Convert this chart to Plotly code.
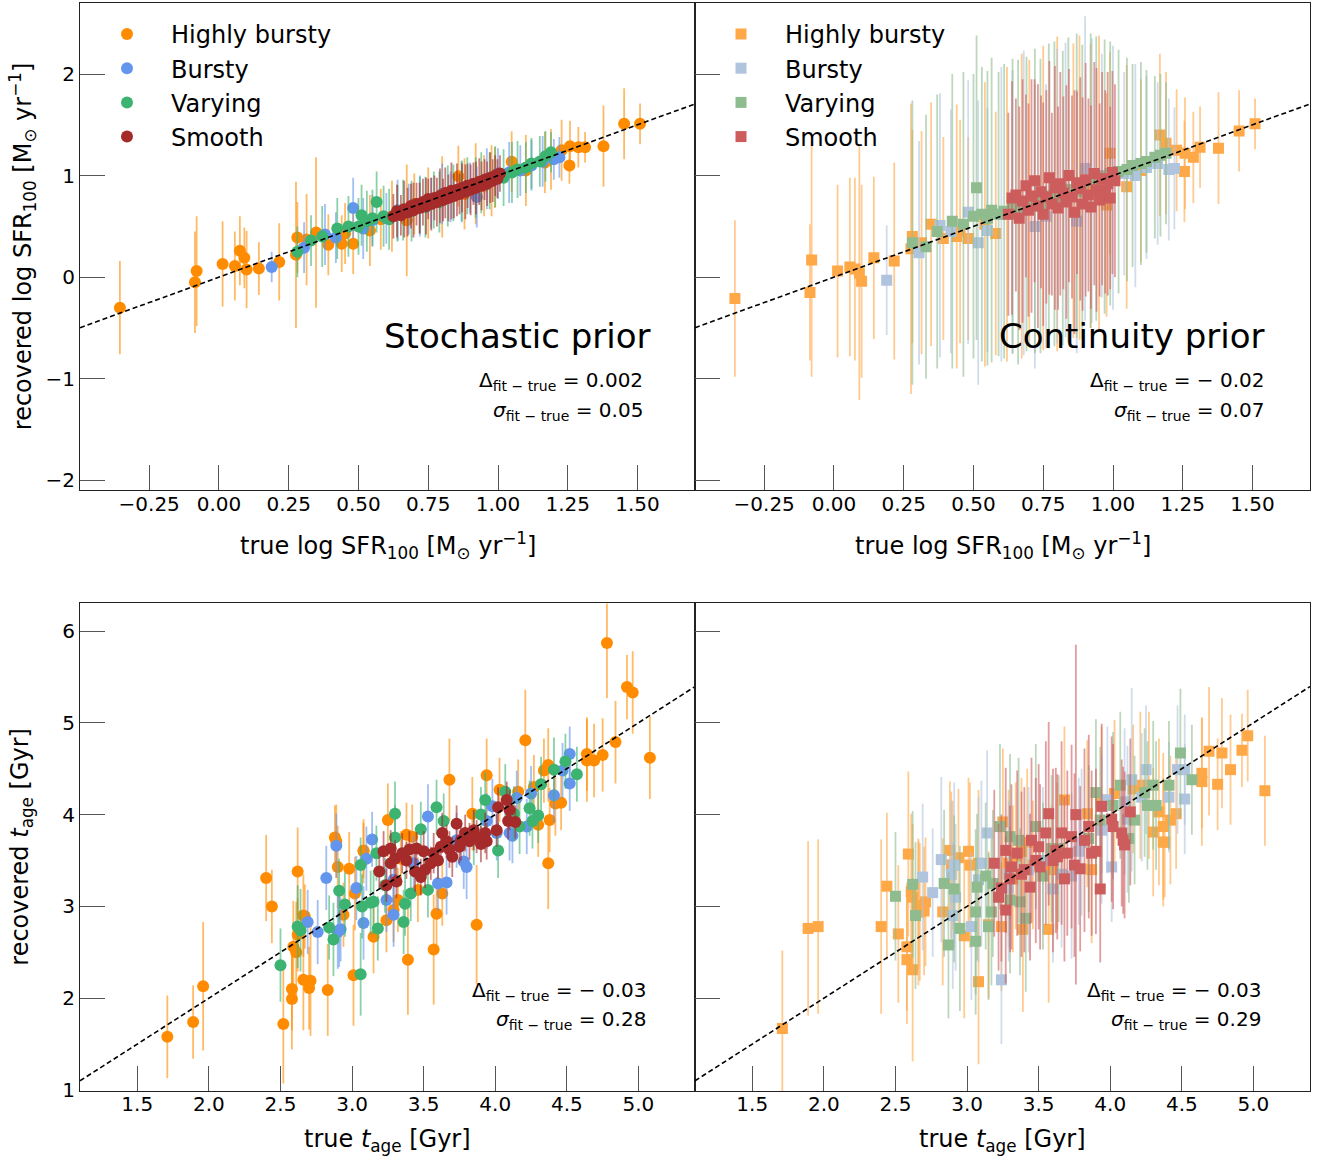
import plotly.graph_objects as go

# ---------------- DATA ----------------
classes = ["Highly bursty", "Bursty", "Varying", "Smooth"]

# --- top panels: log SFR100 (true, stochastic recovery, continuity recovery) ---
HB_sfr_true = [-0.355,-0.086,-0.080,0.013,0.057,0.075,0.091,0.099,0.143,0.216,0.276,0.281,0.314,0.348,0.392,0.440,0.452,0.481,0.541,0.580,0.620,0.673,0.700,0.750,0.800,0.858,0.880,0.920,0.950,0.977,0.989,1.049,1.100,1.168,1.190,1.228,1.256,1.258,1.288,1.312,1.378,1.452,1.509]
HB_sfr_stoch = [-0.30,-0.05,0.06,0.13,0.11,0.26,0.19,0.075,0.085,0.15,0.22,0.39,0.37,0.44,0.32,0.33,0.43,0.33,0.46,0.57,0.60,0.56,0.72,0.73,0.79,0.995,0.82,0.92,0.90,0.95,0.98,1.136,1.05,1.13,1.16,1.25,1.10,1.29,1.28,1.28,1.29,1.51,1.51]
HB_sfr_stoch_err = [0.46,0.50,0.54,0.42,0.34,0.34,0.30,0.38,0.26,0.38,0.72,0.35,0.45,0.74,0.30,0.28,0.30,0.30,0.35,0.30,0.35,0.55,0.30,0.35,0.40,0.30,0.35,0.40,0.30,0.35,0.30,0.30,0.35,0.30,0.30,0.30,0.18,0.25,0.20,0.15,0.40,0.35,0.20]
HB_sfr_cont = [-0.21,-0.15,0.17,0.06,0.10,0.08,0.04,-0.04,0.19,0.16,0.28,0.40,0.34,0.52,0.38,0.40,0.45,0.38,0.52,0.43,0.62,0.70,0.74,0.78,0.82,0.85,0.88,0.90,0.93,0.71,1.22,0.89,1.05,1.40,1.32,1.25,1.04,1.22,1.18,1.28,1.27,1.44,1.51]
HB_sfr_cont_err = [0.77,0.67,1.15,0.85,0.88,0.90,1.25,0.95,0.80,0.97,1.43,1.05,1.10,1.20,1.00,1.30,1.10,1.00,1.40,1.20,1.45,1.50,1.40,1.50,1.55,1.45,1.50,1.40,1.45,1.10,1.00,1.20,0.90,0.80,0.70,0.60,0.50,0.55,0.45,0.40,0.55,0.40,0.25]

B_sfr_true = [0.189,0.305,0.380,0.419,0.481,0.517,0.550,0.600,0.640,0.680,0.720,0.760,0.800,0.830,0.870,0.900,0.924,0.960,1.000,1.040,1.080,1.120,1.160,1.200,1.220]
B_sfr_stoch = [0.10,0.29,0.42,0.39,0.68,0.48,0.56,0.58,0.66,0.67,0.70,0.73,0.82,0.79,0.84,0.88,0.79,0.97,1.02,1.03,1.05,1.10,1.14,1.16,1.18]
B_sfr_stoch_err = [0.15,0.25,0.30,0.25,0.30,0.30,0.25,0.25,0.30,0.25,0.30,0.25,0.30,0.25,0.30,0.25,0.30,0.30,0.25,0.30,0.25,0.25,0.25,0.20,0.20]
B_sfr_cont = [-0.03,0.24,0.51,0.45,0.64,0.34,0.46,0.62,0.64,0.73,0.50,0.60,0.80,0.86,0.55,1.07,0.95,1.00,0.98,1.02,1.00,1.08,1.12,1.06,1.07]
B_sfr_cont_err = [0.54,1.10,1.30,1.20,1.30,1.40,1.20,1.45,1.40,1.50,1.40,1.30,1.45,1.45,1.30,1.50,1.40,1.20,1.30,1.00,1.10,0.90,0.80,0.70,0.60]

V_sfr_true = [0.281,0.330,0.370,0.424,0.464,0.500,0.511,0.530,0.550,0.565,0.590,0.610,0.640,0.660,0.690,0.720,0.740,0.770,0.790,0.820,0.840,0.870,0.890,0.920,0.940,0.970,0.990,1.020,1.050,1.070,1.100,1.120,1.150,1.170,1.190]
V_sfr_stoch = [0.25,0.36,0.40,0.48,0.50,0.50,0.61,0.55,0.58,0.74,0.60,0.57,0.63,0.66,0.65,0.71,0.69,0.76,0.74,0.80,0.83,0.85,0.90,0.88,0.93,0.95,0.99,0.98,1.03,1.06,1.08,1.12,1.14,1.19,1.23]
V_sfr_stoch_err = [0.25,0.25,0.30,0.30,0.30,0.28,0.30,0.30,0.28,0.30,0.30,0.30,0.28,0.30,0.30,0.28,0.30,0.28,0.30,0.30,0.28,0.30,0.28,0.30,0.30,0.28,0.30,0.28,0.30,0.28,0.25,0.25,0.25,0.25,0.20]
V_sfr_cont = [0.34,0.30,0.45,0.55,0.52,0.60,0.88,0.62,0.58,0.66,0.62,0.65,0.70,0.64,0.72,0.75,0.70,0.80,0.82,0.78,0.86,0.90,0.84,0.95,0.97,0.99,1.02,1.04,1.06,1.10,1.12,1.14,1.18,1.20,1.22]
V_sfr_cont_err = [1.40,1.30,1.35,1.45,1.50,1.40,1.50,1.45,1.45,1.50,1.40,1.45,1.45,1.50,1.45,1.50,1.45,1.50,1.50,1.45,1.50,1.50,1.45,1.45,1.40,1.35,1.30,1.20,1.10,1.00,1.00,0.90,0.80,0.80,0.70]

S_sfr_true = [0.625,0.638,0.652,0.664,0.676,0.688,0.697,0.708,0.719,0.731,0.742,0.750,0.761,0.772,0.781,0.792,0.803,0.811,0.822,0.833,0.842,0.853,0.862,0.871,0.883,0.891,0.902,0.912,0.921,0.933,0.941,0.952,0.961,0.972,0.981,0.990,0.998,1.007]
S_sfr_stoch = [0.60,0.65,0.61,0.67,0.64,0.70,0.66,0.72,0.68,0.74,0.70,0.77,0.72,0.78,0.74,0.80,0.76,0.83,0.78,0.85,0.80,0.86,0.82,0.88,0.84,0.90,0.86,0.92,0.88,0.94,0.90,0.96,0.92,0.98,0.95,1.00,0.97,1.02]
S_sfr_stoch_err = [0.22,0.26,0.20,0.28,0.24,0.22,0.27,0.21,0.25,0.23,0.28,0.20,0.26,0.22,0.24,0.27,0.21,0.25,0.23,0.28,0.22,0.26,0.20,0.24,0.27,0.22,0.25,0.21,0.26,0.23,0.24,0.20,0.22,0.25,0.21,0.20,0.19,0.18]
S_sfr_cont = [0.62,0.78,0.81,0.58,0.75,0.90,0.66,0.80,0.95,0.70,0.84,0.62,0.79,0.98,0.72,0.88,0.68,0.92,0.83,0.74,1.00,0.79,0.64,0.93,0.87,0.72,0.96,0.81,0.69,1.02,0.86,0.76,0.97,0.84,0.92,0.78,1.03,0.95]
S_sfr_cont_err = [1.00,1.15,0.95,1.10,1.20,0.90,1.05,1.15,1.00,1.20,0.95,1.10,1.05,1.15,0.90,1.20,1.00,1.10,0.95,1.15,1.05,1.00,1.20,0.90,1.10,1.05,1.15,0.95,1.00,1.10,1.20,0.95,1.05,1.00,1.10,0.90,1.00,0.95]

# --- bottom panels: t_age [Gyr] ---
HB_age_true = [1.71,1.89,1.96,2.40,2.44,2.52,2.58,2.58,2.59,2.61,2.62,2.62,2.66,2.67,2.66,2.71,2.70,2.83,2.88,2.89,2.90,2.94,2.98,3.01,3.02,3.08,3.08,3.15,3.25,3.24,3.29,3.34,3.32,3.39,3.38,3.42,3.46,3.57,3.59,3.63,3.68,3.84,3.87,3.94,4.03,4.16,4.21,4.27,4.30,4.34,4.37,4.38,4.37,4.42,4.46,4.64,4.64,4.69,4.75,4.84,4.78,4.92,4.96,5.08]
HB_age_stoch = [1.58,1.74,2.13,3.31,3.00,1.72,2.10,1.99,2.56,2.50,3.38,2.69,2.90,2.89,2.20,2.19,2.11,2.09,3.75,3.71,3.43,2.91,3.41,2.25,3.14,3.60,3.61,2.67,3.94,2.85,2.96,3.52,3.07,2.42,3.78,3.76,3.18,2.53,2.92,3.14,4.38,4.01,2.80,4.43,4.27,4.25,4.81,4.30,3.89,4.48,4.54,3.94,3.47,4.12,4.13,4.66,4.59,4.59,4.65,4.79,5.87,5.39,5.33,4.62]
HB_age_stoch_err = [0.45,0.40,0.70,0.47,0.40,0.65,0.45,0.55,0.50,0.55,0.48,0.40,0.45,0.35,0.55,0.60,0.45,0.50,0.35,0.40,0.45,0.35,0.40,0.55,0.40,0.35,0.30,0.40,0.40,0.35,0.35,0.30,0.35,0.60,0.35,0.35,0.35,0.60,0.40,0.35,0.45,0.40,0.65,0.40,0.35,0.35,0.55,0.35,0.35,0.35,0.40,0.35,0.50,0.35,0.30,0.40,0.45,0.40,0.40,0.45,0.60,0.35,0.45,0.45]
HB_age_cont = [1.67,2.76,2.78,2.78,3.22,2.70,2.56,2.42,3.57,3.16,3.10,2.31,3.01,2.94,2.94,3.05,2.95,2.94,3.61,3.45,3.45,3.53,2.68,3.60,3.45,2.18,3.47,2.80,3.92,2.78,3.47,3.55,3.30,2.75,3.60,3.70,3.45,2.75,3.40,3.55,4.16,4.01,3.40,4.16,4.23,4.28,4.32,4.32,3.81,4.03,3.70,3.70,3.87,3.94,4.01,4.45,4.36,4.69,4.33,4.49,4.67,4.70,4.86,4.26]
HB_age_cont_err = [0.85,0.95,0.95,0.95,0.80,0.75,0.70,0.70,0.90,0.85,0.80,1.00,0.70,0.75,0.80,0.70,0.70,0.80,0.75,0.80,0.70,0.75,0.90,0.80,0.90,0.90,0.80,0.80,0.80,0.70,0.80,0.80,0.80,0.90,0.80,0.80,0.70,0.80,0.70,0.80,0.80,0.80,0.80,0.80,0.80,0.70,0.80,0.80,0.70,0.80,0.70,0.60,0.80,0.70,0.60,0.60,0.70,0.70,0.50,0.60,0.60,0.40,0.50,0.60]

B_age_true = [2.69,2.76,2.82,2.89,2.90,2.92,2.91,3.03,3.08,3.10,3.14,3.24,3.29,3.29,3.43,3.53,3.60,3.66,3.73,3.78,3.80,3.94,3.98,4.01,4.10,4.12,4.15,4.22,4.25,4.41,4.47,4.52,4.52]
B_age_stoch = [2.83,2.72,3.31,3.66,2.72,2.75,2.74,3.20,2.82,3.52,3.73,3.07,3.29,2.91,3.47,3.98,3.25,3.26,3.72,3.49,3.43,3.93,4.09,3.80,3.80,3.77,4.18,3.87,4.23,4.21,4.48,4.66,4.34]
B_age_stoch_err = [0.35,0.35,0.35,0.35,0.40,0.35,0.40,0.35,0.40,0.35,0.30,0.35,0.30,0.35,0.30,0.35,0.30,0.35,0.30,0.30,0.35,0.30,0.30,0.30,0.30,0.30,0.30,0.30,0.30,0.30,0.30,0.30,0.30]
B_age_cont = [3.32,3.15,3.51,3.35,2.90,3.10,3.45,2.78,3.29,3.47,3.80,2.20,3.35,3.20,3.40,3.50,3.19,3.35,3.33,3.60,3.70,3.83,4.16,3.43,4.14,3.95,4.38,4.19,4.49,4.19,4.49,4.49,4.17]
B_age_cont_err = [0.80,0.70,0.90,0.80,0.80,0.80,0.90,0.80,0.90,0.90,0.90,0.70,0.80,0.80,0.90,0.80,0.80,0.80,0.90,0.80,0.80,0.80,0.80,0.60,0.80,0.80,1.00,0.70,0.70,0.60,0.70,0.60,0.60]

V_age_true = [2.50,2.62,2.64,2.84,2.87,2.91,2.95,3.06,3.06,3.07,3.13,3.15,3.17,3.18,3.23,3.30,3.30,3.36,3.37,3.41,3.48,3.53,3.59,3.64,3.85,3.90,3.93,4.02,4.07,4.13,4.17,4.24,4.26,4.30,4.32,4.41,4.49,4.57]
V_age_stoch = [2.36,2.78,2.74,2.77,2.64,3.17,3.02,2.26,3.45,3.00,3.04,3.05,3.58,2.76,3.23,4.01,3.75,2.83,3.03,3.14,3.84,3.18,4.08,3.93,3.75,4.00,4.16,3.61,4.25,4.01,3.87,4.07,3.93,3.99,4.33,4.49,4.58,4.44]
V_age_stoch_err = [0.40,0.45,0.45,0.35,0.40,0.35,0.35,0.45,0.30,0.35,0.35,0.35,0.30,0.35,0.30,0.35,0.35,0.35,0.35,0.30,0.30,0.30,0.30,0.30,0.30,0.30,0.30,0.30,0.30,0.30,0.30,0.30,0.30,0.30,0.30,0.35,0.30,0.30]
V_age_cont = [3.11,3.24,2.90,3.25,2.58,3.19,2.76,2.94,2.62,3.21,3.33,2.78,2.94,3.25,3.87,3.76,3.07,3.72,3.05,2.87,3.87,3.33,3.63,3.63,3.74,4.24,3.94,4.10,4.32,3.74,3.94,4.24,4.10,4.32,4.10,4.32,4.67,4.38]
V_age_cont_err = [0.70,0.80,0.80,0.80,0.80,0.80,0.90,0.90,0.80,0.80,0.80,0.80,0.80,0.80,0.90,0.90,0.80,0.90,0.80,0.80,0.90,0.80,0.80,0.80,0.80,0.80,0.80,0.80,0.80,0.70,0.70,0.70,0.70,0.70,0.70,0.70,0.70,0.60]

S_age_true = [3.19,3.22,3.24,3.27,3.27,3.30,3.31,3.35,3.38,3.40,3.44,3.45,3.48,3.50,3.51,3.55,3.57,3.60,3.62,3.63,3.66,3.68,3.70,3.73,3.75,3.76,3.79,3.82,3.85,3.87,3.90,3.93,3.94,4.01,4.02,4.08,4.09,4.10,4.14]
S_age_stoch = [3.38,3.60,3.23,3.63,3.47,3.52,3.27,3.58,3.50,3.62,3.38,3.63,3.32,3.60,3.40,3.47,3.58,3.50,3.65,3.80,3.71,3.62,3.54,3.90,3.65,3.72,3.80,3.71,3.83,3.76,3.68,3.80,3.71,3.83,4.08,4.16,3.93,4.05,3.92]
S_age_stoch_err = [0.20,0.22,0.18,0.20,0.22,0.20,0.18,0.22,0.20,0.20,0.22,0.18,0.20,0.22,0.20,0.18,0.22,0.20,0.20,0.22,0.18,0.20,0.22,0.20,0.18,0.22,0.20,0.20,0.22,0.18,0.20,0.22,0.20,0.18,0.22,0.20,0.20,0.22,0.18]
S_age_cont = [3.47,3.10,3.20,3.61,2.96,3.30,3.43,3.58,3.35,3.40,3.21,3.72,3.50,3.65,3.43,3.80,4.01,3.50,3.61,3.54,3.80,3.30,3.58,3.76,3.45,4.00,3.41,3.72,3.87,3.58,3.60,3.19,4.09,3.95,3.87,3.80,3.72,3.67,4.03]
S_age_cont_err = [0.80,0.80,0.80,0.90,0.80,0.80,0.90,0.90,0.90,0.90,0.80,0.90,0.90,0.90,0.90,1.00,1.00,1.00,0.90,0.90,1.00,0.90,0.90,1.00,1.00,1.85,0.90,1.00,1.00,0.90,0.90,0.80,0.90,0.90,0.90,0.80,0.80,0.80,0.80]

# axis ticks
sfr_x_ticks = [-0.25, 0.0, 0.25, 0.5, 0.75, 1.0, 1.25, 1.5]
sfr_x_labels = ["\u22120.25", "0.00", "0.25", "0.50", "0.75", "1.00", "1.25", "1.50"]
sfr_y_ticks = [-2, -1, 0, 1, 2]
sfr_y_labels = ["\u22122", "\u22121", "0", "1", "2"]
age_x_ticks = [1.5, 2.0, 2.5, 3.0, 3.5, 4.0, 4.5, 5.0]
age_x_labels = ["1.5", "2.0", "2.5", "3.0", "3.5", "4.0", "4.5", "5.0"]
age_y_ticks = [1, 2, 3, 4, 5, 6]
age_y_labels = ["1", "2", "3", "4", "5", "6"]
sfr_range = [-0.498, 1.706]
sfr_yrange = [-2.10, 2.70]
age_range = [1.10, 5.395]
age_yrange = [0.99, 6.30]

stats = {
    "tl": ("0.002", "0.05"),
    "tr": ("\u2212 0.02", "0.07"),
    "bl": ("\u2212 0.03", "0.28"),
    "br": ("\u2212 0.03", "0.29"),
}

# ---------------- STYLE ----------------
FONT = "DejaVu Sans"
left_colors = ["rgb(255,140,0)", "rgb(100,149,237)", "rgb(60,179,113)", "rgb(165,42,42)"]
left_err = ["rgba(255,140,0,0.6)", "rgba(100,149,237,0.6)", "rgba(60,179,113,0.6)", "rgba(165,42,42,0.6)"]
right_colors = ["rgb(255,168,72)", "rgb(176,196,222)", "rgb(143,188,143)", "rgb(205,92,92)"]
right_err = ["rgba(255,168,72,0.6)", "rgba(176,196,222,0.6)", "rgba(143,188,143,0.6)", "rgba(205,92,92,0.6)"]

sfr_sets = [
    (HB_sfr_true, HB_sfr_stoch, HB_sfr_stoch_err, HB_sfr_cont, HB_sfr_cont_err),
    (B_sfr_true, B_sfr_stoch, B_sfr_stoch_err, B_sfr_cont, B_sfr_cont_err),
    (V_sfr_true, V_sfr_stoch, V_sfr_stoch_err, V_sfr_cont, V_sfr_cont_err),
    (S_sfr_true, S_sfr_stoch, S_sfr_stoch_err, S_sfr_cont, S_sfr_cont_err),
]
age_sets = [
    (HB_age_true, HB_age_stoch, HB_age_stoch_err, HB_age_cont, HB_age_cont_err),
    (B_age_true, B_age_stoch, B_age_stoch_err, B_age_cont, B_age_cont_err),
    (V_age_true, V_age_stoch, V_age_stoch_err, V_age_cont, V_age_cont_err),
    (S_age_true, S_age_stoch, S_age_stoch_err, S_age_cont, S_age_cont_err),
]

fig = go.Figure()

def add_series(xa, ya, x, y, e, color, ecolor, symbol, size, name, legend, show):
    fig.add_trace(go.Scatter(
        x=x, y=y, mode="markers", name=name, xaxis=xa, yaxis=ya,
        marker=dict(color=color, size=size, symbol=symbol, line=dict(width=0)),
        error_y=dict(type="data", array=e, visible=True, color=ecolor, thickness=1.8, width=0),
        showlegend=show, legend=legend,
    ))

for i, name in enumerate(classes):
    t, s, se, c, ce = sfr_sets[i]
    add_series("x", "y", t, s, se, left_colors[i], left_err[i], "circle", 12, name, "legend", True)
for i, name in enumerate(classes):
    t, s, se, c, ce = sfr_sets[i]
    add_series("x2", "y2", t, c, ce, right_colors[i], right_err[i], "square", 11, name, "legend2", True)
for i, name in enumerate(classes):
    t, s, se, c, ce = age_sets[i]
    add_series("x3", "y3", t, s, se, left_colors[i], left_err[i], "circle", 12, name, "legend", False)
for i, name in enumerate(classes):
    t, s, se, c, ce = age_sets[i]
    add_series("x4", "y4", t, c, ce, right_colors[i], right_err[i], "square", 11, name, "legend", False)

# one-to-one lines
for xa, ya, rng in [("x", "y", sfr_range), ("x2", "y2", sfr_range), ("x3", "y3", age_range), ("x4", "y4", age_range)]:
    fig.add_trace(go.Scatter(x=rng, y=rng, mode="lines", xaxis=xa, yaxis=ya, showlegend=False,
                             line=dict(color="black", width=1.6, dash="5px,3px"), hoverinfo="skip"))

# the captured picture is squeezed vertically by ~1%, so lay out on a slightly taller canvas
SY = 0.9898
W, H = 1323, 1172
def px(v):
    return v / W
def py(v):
    return 1 - (v / SY) / H

xl = [px(80), px(695)]
xr = [px(695), px(1310)]
yt = [py(490), py(3)]
yb = [py(1090), py(603)]

def ax(domain, rng, tv, tt, labels=True, anchor=None, standoff=0):
    return dict(domain=domain, range=rng, tickvals=tv, ticktext=tt, showticklabels=labels,
                showline=True, linecolor="#222", linewidth=1.2, mirror=True,
                ticks="inside", ticklen=25, tickwidth=1.2, tickcolor="#555",
                showgrid=False, zeroline=False, anchor=anchor, ticklabelstandoff=standoff,
                tickfont=dict(family=FONT, size=20, color="black"))

fig.update_layout(
    width=W, height=H, autosize=False,
    margin=dict(l=0, r=0, t=0, b=0),
    paper_bgcolor="white", plot_bgcolor="white",
    font=dict(family=FONT, color="black"),
    xaxis=ax(xl, sfr_range, sfr_x_ticks, sfr_x_labels, anchor="y", standoff=-5),
    yaxis=ax(yt, sfr_yrange, sfr_y_ticks, sfr_y_labels, anchor="x"),
    xaxis2=ax(xr, sfr_range, sfr_x_ticks, sfr_x_labels, anchor="y2", standoff=-5),
    yaxis2=ax(yt, sfr_yrange, sfr_y_ticks, sfr_y_labels, labels=False, anchor="x2"),
    xaxis3=ax(xl, age_range, age_x_ticks, age_x_labels, anchor="y3", standoff=-5),
    yaxis3=ax(yb, age_yrange, age_y_ticks, age_y_labels, anchor="x3"),
    xaxis4=ax(xr, age_range, age_x_ticks, age_x_labels, anchor="y4", standoff=-5),
    yaxis4=ax(yb, age_yrange, age_y_ticks, age_y_labels, labels=False, anchor="x4"),
    legend=dict(x=px(83), y=1 - 12 / H, xanchor="left", yanchor="top", bgcolor="rgba(0,0,0,0)",
                font=dict(family=FONT, size=24), itemwidth=78, tracegroupgap=0),
    legend2=dict(x=px(697), y=1 - 12 / H, xanchor="left", yanchor="top", bgcolor="rgba(0,0,0,0)",
                 font=dict(family=FONT, size=24), itemwidth=78, tracegroupgap=0),
    showlegend=True,
)

PW, PH = 615, 487  # panel size in pixels
ann = []
def stat_text(key, xd, yd_delta, yd_sigma, xref, yref):
    d, s = stats[key]
    ann.append(dict(text="\u0394<sub>fit \u2212 true</sub> = " + d, x=xd, y=yd_delta, xref=xref, yref=yref,
                    xanchor="right", yanchor="middle", showarrow=False, font=dict(family=FONT, size=20)))
    ann.append(dict(text="<i>\u03c3</i><sub>fit \u2212 true</sub> = " + s, x=xd, y=yd_sigma, xref=xref, yref=yref,
                    xanchor="right", yanchor="middle", showarrow=False, font=dict(family=FONT, size=20)))

ann.append(dict(text="Stochastic prior", x=(653 - 80) / PW, y=(490 - 336) / PH, xref="x domain", yref="y domain",
                xanchor="right", yanchor="middle", showarrow=False, font=dict(family=FONT, size=34)))
ann.append(dict(text="Continuity prior", x=(1266 - 695) / PW, y=(490 - 336) / PH, xref="x2 domain", yref="y2 domain",
                xanchor="right", yanchor="middle", showarrow=False, font=dict(family=FONT, size=34)))
stat_text("tl", (645 - 80) / PW, (490 - 381) / PH, (490 - 411) / PH, "x domain", "y domain")
stat_text("tr", (1266 - 695) / PW, (490 - 381) / PH, (490 - 411) / PH, "x2 domain", "y2 domain")
stat_text("bl", (648 - 80) / PW, (1090 - 990) / PH, (1090 - 1019) / PH, "x3 domain", "y3 domain")
stat_text("br", (1263 - 695) / PW, (1090 - 990) / PH, (1090 - 1019) / PH, "x4 domain", "y4 domain")

sfr_xtitle = "true log SFR<sub>100</sub> [M<sub>\u2299</sub> yr<sup>\u22121</sup>]"
sfr_ytitle = "recovered log SFR<sub>100</sub> [M<sub>\u2299</sub> yr<sup>\u22121</sup>]"
age_xtitle = "true <i>t</i><sub>age</sub> [Gyr]"
age_ytitle = "recovered <i>t</i><sub>age</sub> [Gyr]"
for xc in [387.5, 1002.5]:
    ann.append(dict(text=sfr_xtitle, x=px(xc), y=py(545), xref="paper", yref="paper", xanchor="center",
                    yanchor="middle", showarrow=False, font=dict(family=FONT, size=24)))
    ann.append(dict(text=age_xtitle, x=px(xc), y=py(1140), xref="paper", yref="paper", xanchor="center",
                    yanchor="middle", showarrow=False, font=dict(family=FONT, size=24)))
ann.append(dict(text=sfr_ytitle, x=px(22), y=py(247), xref="paper", yref="paper", xanchor="center",
                yanchor="middle", textangle=-90, showarrow=False, font=dict(family=FONT, size=24)))
ann.append(dict(text=age_ytitle, x=px(22), y=py(846), xref="paper", yref="paper", xanchor="center",
                yanchor="middle", textangle=-90, showarrow=False, font=dict(family=FONT, size=24)))

fig.update_layout(annotations=ann)
# remove the default page margin
css_fix = ("document.documentElement.style.overflow='hidden';"
           "document.body.style.margin='0';document.body.style.padding='0';"
           "document.body.style.overflow='hidden';")
fig.write_html("out.html", config={"displayModeBar": False}, post_script=css_fix)
